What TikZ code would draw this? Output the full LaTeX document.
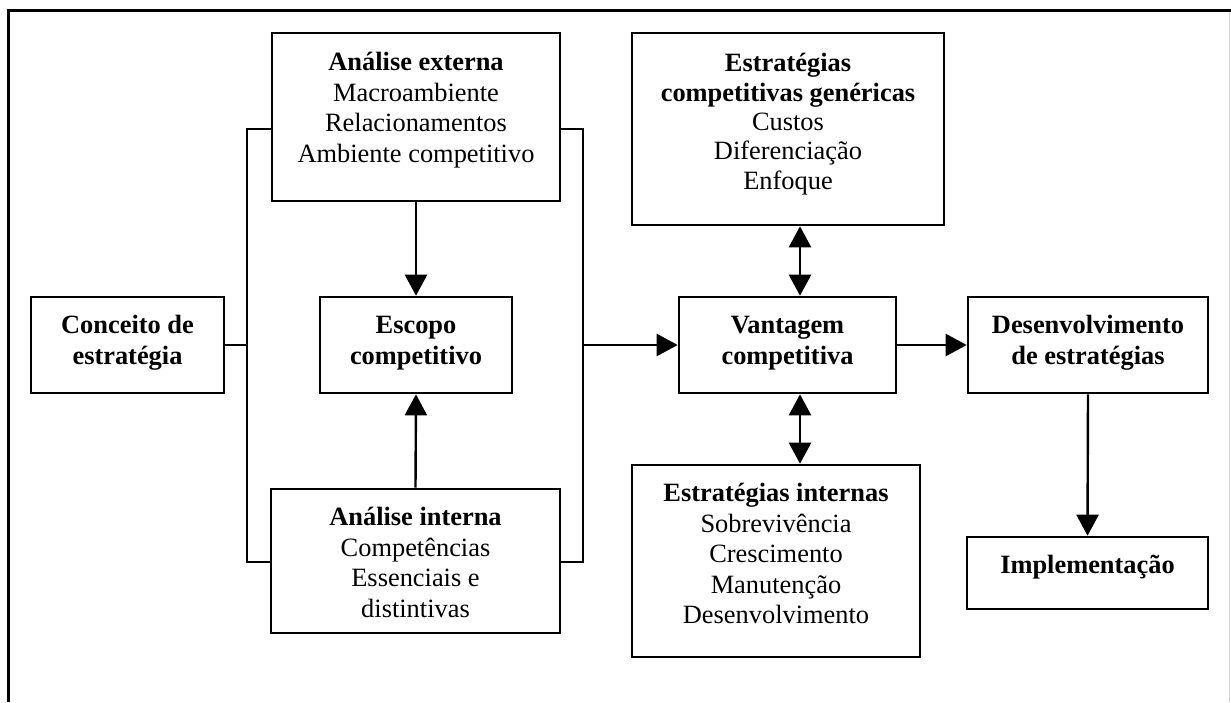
\documentclass[tikz,border=0pt]{standalone}
\usepackage{fontspec}
\setmainfont{Liberation Serif}
\usetikzlibrary{arrows.meta,calc}

% strut that fixes the height of the first text line
\newcommand{\firstline}{\rule{0pt}{25pt}}

\begin{document}
\begin{tikzpicture}[x=1pt,y=-1pt,
  box/.style={draw, line width=2.6pt, rectangle, inner sep=0pt, fill=white},
  txt/.style={anchor=north, align=center, inner sep=0pt,
    font=\fontsize{26.4}{30.5}\selectfont},
  link/.style={line width=2.4pt},
  arr/.style={link, -{Triangle[length=21pt,width=22pt]}},
  darr/.style={link, {Triangle[length=21pt,width=22pt]}-{Triangle[length=21pt,width=22pt]}}]

\useasboundingbox (0,0) rectangle (1231,702);

% page frame
\draw[line width=3pt] (8,702) -- (8,10) -- (1231,10);
\draw[gray!35, line width=1pt] (1229,11.5) -- (1229,702);

% boxes
\node[box, minimum width=193pt, minimum height=96pt]  (cons) at (127.5,345) {};
\node[box, minimum width=288pt, minimum height=168pt] (ext)  at (416,117) {};
\node[box, minimum width=192pt, minimum height=96pt]  (esc)  at (416,345) {};
\node[box, minimum width=289pt, minimum height=144pt] (int)  at (415.5,561) {};
\node[box, minimum width=312pt, minimum height=192pt] (comp) at (788,129) {};
\node[box, minimum width=217pt, minimum height=96pt]  (vant) at (787.5,345) {};
\node[box, minimum width=288pt, minimum height=192pt] (intst) at (776,561) {};
\node[box, minimum width=240pt, minimum height=96pt]  (dev)  at (1088,345) {};
\node[box, minimum width=241pt, minimum height=72pt]  (impl) at (1087.5,573) {};

% box texts
\node[txt] (cons-t) at ($(cons.north)+(0,13)$)
  {\firstline\textbf{Conceito de}\\\textbf{estratégia}};
\node[txt] (ext-t) at ($(ext.north)+(0,14)$)
  {\firstline\textbf{Análise externa}\\Macroambiente\\Relacionamentos\\Ambiente competitivo};
\node[txt] (esc-t) at ($(esc.north)+(0,13)$)
  {\firstline\textbf{Escopo}\\\textbf{competitivo}};
\node[txt] (int-t) at ($(int.north)+(0,13)$)
  {\firstline\textbf{Análise interna}\\Competências\\Essenciais e\\distintivas};
\node[txt, font=\fontsize{26.4}{29.3}\selectfont] (comp-t) at ($(comp.north)+(0,15)$)
  {\firstline\textbf{Estratégias}\\\textbf{competitivas genéricas}\\Custos\\Diferenciação\\Enfoque};
\node[txt] (vant-t) at ($(vant.north)+(0,13)$)
  {\firstline\textbf{Vantagem}\\\textbf{competitiva}};
\node[txt] (intst-t) at ($(intst.north)+(0,13)$)
  {\firstline\textbf{Estratégias internas}\\Sobrevivência\\Crescimento\\Manutenção\\Desenvolvimento};
\node[txt] (dev-t) at ($(dev.north)+(0,13)$)
  {\firstline\textbf{Desenvolvimento}\\\textbf{de estratégias}};
\node[txt] (impl-t) at ($(impl.north)+(0,13)$)
  {\firstline\textbf{Implementação}};

% bracket joints
\coordinate (ltop) at (247,129);
\coordinate (lbot) at (247,562);
\coordinate (rtop) at (583,129);
\coordinate (rbot) at (583,562);
\coordinate (ax) at (800,0);

% left bracket joining the two analyses to the strategy concept
\draw[link] (ext.west |- ltop) -- (ltop) -- (lbot) -- (int.west |- lbot);
\draw[link] (cons.east) -- (cons.east -| ltop);

% right bracket leading to competitive advantage
\draw[link] (ext.east |- rtop) -- (rtop) -- (rbot) -- (int.east |- rbot);
\draw[arr] (rtop |- vant.west) -- (vant.west);

% arrows into the competitive scope
\draw[arr] (ext.south) -- (esc.north);
\draw[arr] (int.north) -- (esc.south);

% two-way links around competitive advantage
\draw[darr] (comp.south -| ax) -- (vant.north -| ax);
\draw[darr] (vant.south -| ax) -- (intst.north -| ax);

% development and implementation
\draw[arr] (vant.east) -- (dev.west);
\draw[arr] (dev.south) -- (impl.north);

\end{tikzpicture}
\end{document}
